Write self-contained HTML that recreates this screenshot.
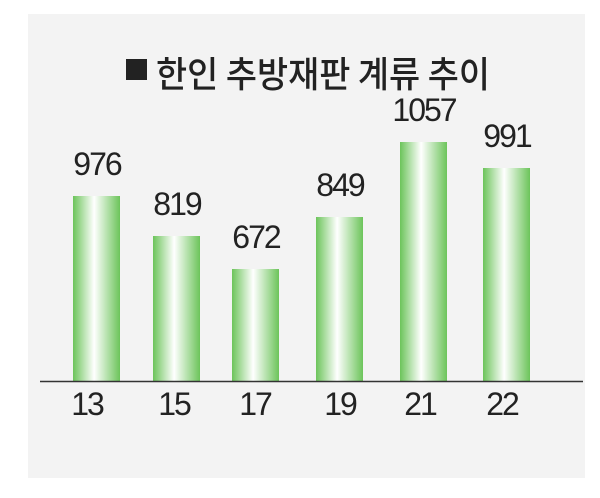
<!DOCTYPE html>
<html><head><meta charset="utf-8"><style>
body{margin:0;background:#fff;width:600px;height:493px;overflow:hidden}
</style></head><body>
<svg width="600" height="493" xmlns="http://www.w3.org/2000/svg">
<defs>
<linearGradient id="g" x1="0" x2="1" y1="0" y2="0">
<stop offset="0" stop-color="#6cc45a"/>
<stop offset="0.45" stop-color="#ffffff"/>
<stop offset="1" stop-color="#6cc45a"/>
</linearGradient>
</defs>
<rect x="28" y="14" width="557" height="464" fill="#f3f3f3"/>
<rect x="126" y="59" width="21" height="21" fill="#222"/>
<text x="156" y="87" font-family="'Noto Sans CJK KR',sans-serif" font-size="36" font-weight="500" fill="#222" textLength="334" lengthAdjust="spacingAndGlyphs">한인 추방재판 계류 추이</text>
<g fill="url(#g)">
<rect x="73" y="196" width="47" height="185"/>
<rect x="153" y="236" width="47" height="145"/>
<rect x="232" y="269" width="47" height="112"/>
<rect x="316" y="217" width="47" height="164"/>
<rect x="400" y="142" width="47" height="239"/>
<rect x="483" y="168" width="47" height="213"/>
</g>
<line x1="40" y1="381.5" x2="583" y2="381.5" stroke="#333" stroke-width="1.5"/>
<g font-family="'Liberation Sans',sans-serif" font-size="32" fill="#222" text-anchor="middle" letter-spacing="-2">
<text x="97" y="175">976</text>
<text x="177" y="215">819</text>
<text x="256" y="248">672</text>
<text x="340" y="196">849</text>
<text x="424" y="121">1057</text>
<text x="507" y="147">991</text>
<text x="87" y="415">13</text>
<text x="174" y="415">15</text>
<text x="255" y="415">17</text>
<text x="340" y="415">19</text>
<text x="420" y="415">21</text>
<text x="502" y="415">22</text>
</g>
</svg>
</body></html>
